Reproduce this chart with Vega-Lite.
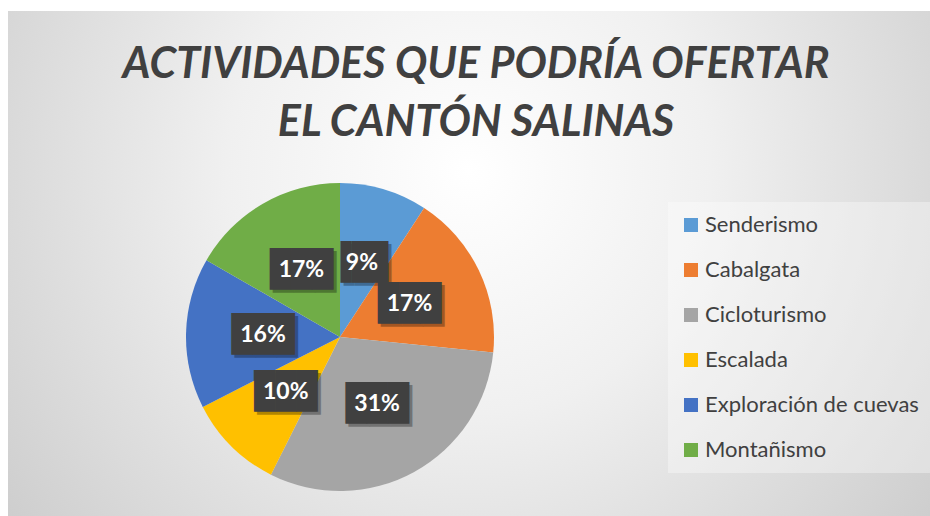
{
  "$schema": "https://vega.github.io/schema/vega-lite/v6.json",
  "autosize": {"type": "fit", "contains": "padding"},
  "width": 930,
  "height": 516,
  "padding": {"left": 8, "top": 11, "right": 0, "bottom": 0},
  "background": "#ffffff",
  "view": {
    "stroke": null,
    "fill": {
      "gradient": "radial",
      "x1": 0.5, "y1": 0.4, "r1": 0,
      "x2": 0.5, "y2": 0.4, "r2": 0.75,
      "stops": [
        {"offset": 0, "color": "#ffffff"},
        {"offset": 0.35, "color": "#f0f0f0"},
        {"offset": 1, "color": "#c2c2c2"}
      ]
    }
  },
  "title": {
    "text": ["ACTIVIDADES QUE PODRÍA OFERTAR", "EL CANTÓN SALINAS"],
    "font": "Lato",
    "fontSize": 43,
    "fontWeight": "bold",
    "fontStyle": "italic",
    "color": "#404040",
    "lineHeight": 58,
    "anchor": "middle",
    "baseline": "alphabetic",
    "offset": -168,
    "dx": 7
  },
  "data": {
    "values": [
      {"actividad": "Senderismo", "porcentaje": 0.092, "orden": 1},
      {"actividad": "Cabalgata", "porcentaje": 0.174, "orden": 2},
      {"actividad": "Cicloturismo", "porcentaje": 0.308, "orden": 3},
      {"actividad": "Escalada", "porcentaje": 0.101, "orden": 4},
      {"actividad": "Exploración de cuevas", "porcentaje": 0.158, "orden": 5},
      {"actividad": "Montañismo", "porcentaje": 0.167, "orden": 6}
    ]
  },
  "encoding": {
    "theta": {"field": "porcentaje", "type": "quantitative", "stack": true},
    "order": {"field": "orden", "type": "quantitative"}
  },
  "layer": [
    {
      "mark": {"type": "arc", "radius": 154, "x": 332, "y": 326},
      "encoding": {
        "color": {
          "field": "actividad",
          "type": "nominal",
          "sort": null,
          "scale": {
            "domain": ["Senderismo", "Cabalgata", "Cicloturismo", "Escalada", "Exploración de cuevas", "Montañismo"],
            "range": ["#5B9BD5", "#ED7D31", "#A5A5A5", "#FFC000", "#4472C4", "#70AD47"]
          },
          "legend": {
            "title": null,
            "orient": "none",
            "legendX": 660,
            "legendY": 191,
            "fillColor": "rgba(255,255,255,0.35)",
            "padding": 12,
            "symbolType": "square",
            "symbolSize": 196,
            "symbolStrokeWidth": 0,
            "symbolOpacity": 1,
            "labelFont": "Lato",
            "labelFontSize": 22,
            "labelColor": "#404040",
            "labelOffset": 3,
            "rowPadding": 23,
            "labelLimit": 400
          }
        }
      }
    },
    {
      "mark": {"type": "text", "radius": 77, "x": 335, "y": 329, "font": "DejaVu Sans Mono", "fontSize": 35, "color": "#000000", "opacity": 0.3, "baseline": "middle", "align": "center"},
      "encoding": {
        "text": {"condition": {"test": "datum.porcentaje < 0.095", "value": "▐█▊"}, "value": "███"}
      }
    },
    {
      "mark": {"type": "text", "radius": 77, "x": 332, "y": 326, "font": "DejaVu Sans Mono", "fontSize": 35, "color": "#404040", "baseline": "middle", "align": "center"},
      "encoding": {
        "text": {"condition": {"test": "datum.porcentaje < 0.095", "value": "▐█▊"}, "value": "███"}
      }
    },
    {
      "mark": {"type": "text", "radius": 77, "x": 332, "y": 326, "font": "Lato", "fontSize": 23, "fontWeight": "bold", "color": "#ffffff", "baseline": "middle", "align": "center"},
      "encoding": {
        "text": {"field": "porcentaje", "type": "quantitative", "format": ".0%"}
      }
    }
  ]
}
